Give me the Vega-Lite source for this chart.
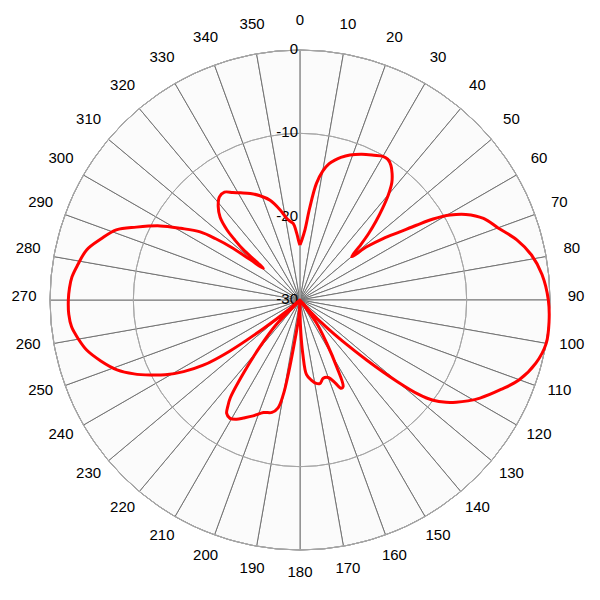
{
  "$schema": "https://vega.github.io/schema/vega-lite/v6.json",
  "width": 500,
  "height": 500,
  "autosize": "none",
  "padding": 50,
  "background": "white",
  "config": {"view": {"stroke": null}},
  "datasets": {
    "spokes": [
      {"s":0,"v":10},{"s":1,"v":10},{"s":2,"v":10},{"s":3,"v":10},{"s":4,"v":10},{"s":5,"v":10},
      {"s":6,"v":10},{"s":7,"v":10},{"s":8,"v":10},{"s":9,"v":10},{"s":10,"v":10},{"s":11,"v":10},
      {"s":12,"v":10},{"s":13,"v":10},{"s":14,"v":10},{"s":15,"v":10},{"s":16,"v":10},{"s":17,"v":10},
      {"s":18,"v":10},{"s":19,"v":10},{"s":20,"v":10},{"s":21,"v":10},{"s":22,"v":10},{"s":23,"v":10},
      {"s":24,"v":10},{"s":25,"v":10},{"s":26,"v":10},{"s":27,"v":10},{"s":28,"v":10},{"s":29,"v":10},
      {"s":30,"v":10},{"s":31,"v":10},{"s":32,"v":10},{"s":33,"v":10},{"s":34,"v":10},{"s":35,"v":10}
    ],
    "rings": [{"db":0,"t":"0"},{"db":-10,"t":"-10"},{"db":-20,"t":"-20"},{"db":-30,"t":"-30"}],
    "angles": [
      {"a":0},{"a":10},{"a":20},{"a":30},{"a":40},{"a":50},{"a":60},{"a":70},{"a":80},{"a":90},
      {"a":100},{"a":110},{"a":120},{"a":130},{"a":140},{"a":150},{"a":160},{"a":170},{"a":180},
      {"a":190},{"a":200},{"a":210},{"a":220},{"a":230},{"a":240},{"a":250},{"a":260},{"a":270},
      {"a":280},{"a":290},{"a":300},{"a":310},{"a":320},{"a":330},{"a":340},{"a":350}
    ],
    "pattern": [
      {"a":0,"db":-23.4},{"a":2,"db":-22.7},{"a":4,"db":-21.6},{"a":6,"db":-18.9},{"a":8,"db":-15.9},
      {"a":10,"db":-14.3},{"a":12,"db":-13.3},{"a":14,"db":-12.7},{"a":16,"db":-12.2},{"a":19,"db":-11.6},
      {"a":23,"db":-11.0},{"a":27,"db":-10.5},{"a":30,"db":-10.1},{"a":32,"db":-10.1},{"a":34,"db":-10.5},
      {"a":36,"db":-11.2},{"a":38,"db":-12.1},{"a":40,"db":-13.5},{"a":42,"db":-15.2},{"a":44,"db":-16.9},
      {"a":46,"db":-18.6},{"a":48,"db":-20.4},{"a":50,"db":-21.9},{"a":51.5,"db":-19.7},{"a":53.5,"db":-17.6},
      {"a":55.7,"db":-15.5},{"a":57.3,"db":-13.4},{"a":58.7,"db":-11.3},{"a":60.5,"db":-9.3},{"a":62.7,"db":-7.6},
      {"a":66,"db":-5.9},{"a":70,"db":-4.7},{"a":74.5,"db":-3.0},{"a":79,"db":-1.7},{"a":84,"db":-0.8},
      {"a":90,"db":-0.2},{"a":95,"db":0},{"a":100,"db":0},{"a":105,"db":-0.7},{"a":110,"db":-2.0},
      {"a":114,"db":-3.6},{"a":118.6,"db":-5.4},{"a":121,"db":-6.5},{"a":123.2,"db":-7.6},{"a":125,"db":-8.6},
      {"a":127,"db":-10.0},{"a":128.5,"db":-11.8},{"a":130,"db":-14.8},{"a":132,"db":-19.2},{"a":134,"db":-22.8},
      {"a":136,"db":-25.5},{"a":138.5,"db":-28.2},{"a":141,"db":-30},{"a":144.4,"db":-26.6},{"a":148.3,"db":-23.9},
      {"a":151.2,"db":-20.9},{"a":153.5,"db":-18.4},{"a":155,"db":-18.3},{"a":157,"db":-19.2},{"a":160,"db":-20.1},
      {"a":163.5,"db":-20.2},{"a":166.5,"db":-19.7},{"a":169,"db":-19.8},{"a":172,"db":-20.3},{"a":175,"db":-21},
      {"a":177,"db":-23.5},{"a":178.5,"db":-26},{"a":180,"db":-28.5},{"a":181.5,"db":-30},{"a":184,"db":-28},
      {"a":187,"db":-25.5},{"a":189,"db":-21},{"a":190,"db":-18.5},{"a":191.5,"db":-16.8},{"a":194,"db":-16.1},
      {"a":198,"db":-15.8},{"a":202,"db":-15.0},{"a":205.6,"db":-14.3},{"a":208,"db":-13.8},{"a":210.6,"db":-13.5},
      {"a":212.9,"db":-13.8},{"a":214.2,"db":-14.6},{"a":215.5,"db":-15.6},{"a":217.7,"db":-18.9},{"a":220.6,"db":-22.6},
      {"a":224,"db":-25.8},{"a":228,"db":-30},{"a":230,"db":-28},{"a":232,"db":-24.5},{"a":234,"db":-19.5},
      {"a":236,"db":-16},{"a":238.4,"db":-13.6},{"a":241,"db":-11.5},{"a":243.4,"db":-9.9},{"a":246,"db":-8.2},
      {"a":249.1,"db":-6.5},{"a":253,"db":-5.0},{"a":256.8,"db":-3.7},{"a":260,"db":-3.0},{"a":263.3,"db":-2.4},
      {"a":266.5,"db":-2.2},{"a":270,"db":-2.2},{"a":273,"db":-2.3},{"a":275.8,"db":-2.5},{"a":279,"db":-3.0},
      {"a":283.2,"db":-3.7},{"a":287,"db":-5.0},{"a":290.9,"db":-6.4},{"a":294,"db":-8.5},{"a":297.9,"db":-11},
      {"a":301,"db":-13.3},{"a":304.3,"db":-15.5},{"a":306,"db":-17.5},{"a":307.5,"db":-19.6},{"a":309,"db":-22.3},
      {"a":310.8,"db":-24.2},{"a":311.6,"db":-20.9},{"a":312.7,"db":-19.3},{"a":313.9,"db":-17.8},{"a":316,"db":-16.2},
      {"a":318.8,"db":-15.1},{"a":322,"db":-14.3},{"a":325,"db":-14.2},{"a":328,"db":-14.8},{"a":331,"db":-15.3},
      {"a":335,"db":-15.9},{"a":339,"db":-16.6},{"a":343.3,"db":-17.5},{"a":347.5,"db":-18.9},{"a":350.8,"db":-20.1},
      {"a":353,"db":-20.5},{"a":355,"db":-20.8},{"a":357.2,"db":-22.0},{"a":359.3,"db":-23.2},{"a":360,"db":-23.4}
    ]
  },
  "layer": [
    {
      "data": {"name": "spokes"},
      "mark": {"type": "arc", "fill": "#fbfbfb", "stroke": "#737373", "strokeWidth": 1},
      "encoding": {
        "theta": {"field": "v", "type": "quantitative", "stack": true, "scale": {"domain": [0, 360], "range": [0, 6.283185307]}},
        "order": {"field": "s"},
        "radius": {"value": 250}
      }
    },
    {
      "data": {"name": "rings"},
      "transform": [{"filter": "datum.db > -30"}],
      "mark": {"type": "arc", "theta": 0, "theta2": 6.283185307, "fillOpacity": 0, "fill": "white", "stroke": "#a6a6a6", "strokeWidth": 1},
      "encoding": {
        "radius": {"field": "db", "type": "quantitative", "scale": {"type": "linear", "domain": [-30, 0], "range": [0, 250], "zero": false}}
      }
    },
    {
      "data": {"name": "rings"},
      "mark": {"type": "text", "align": "right", "baseline": "middle", "dx": -2, "dy": -1, "font": "Liberation Sans", "fontSize": 15, "color": "#000000"},
      "encoding": {
        "theta": {"value": 0},
        "radius": {"field": "db", "type": "quantitative", "scale": {"type": "linear", "domain": [-30, 0], "range": [0, 250], "zero": false}},
        "text": {"field": "t", "type": "nominal"}
      }
    },
    {
      "data": {"name": "angles"},
      "mark": {"type": "text", "align": "center", "baseline": "middle", "dy": -4, "font": "Liberation Sans", "fontSize": 15, "color": "#000000"},
      "encoding": {
        "theta": {"field": "a", "type": "quantitative", "stack": false, "scale": {"domain": [0, 360], "range": [0, 6.283185307]}},
        "radius": {"value": 276},
        "text": {"field": "a", "type": "quantitative"}
      }
    },
    {
      "data": {"name": "pattern"},
      "transform": [
        {"calculate": "(datum.db + 30) * sin(datum.a * PI / 180)", "as": "px"},
        {"calculate": "(datum.db + 30) * cos(datum.a * PI / 180)", "as": "py"}
      ],
      "mark": {"type": "line", "color": "#ff0000", "strokeWidth": 3, "strokeJoin": "round", "interpolate": "catmull-rom"},
      "encoding": {
        "x": {"field": "px", "type": "quantitative", "scale": {"domain": [-30, 30], "nice": false, "zero": false}, "axis": null},
        "y": {"field": "py", "type": "quantitative", "scale": {"domain": [-30, 30], "nice": false, "zero": false}, "axis": null},
        "order": {"field": "a", "type": "quantitative"}
      }
    }
  ]
}
